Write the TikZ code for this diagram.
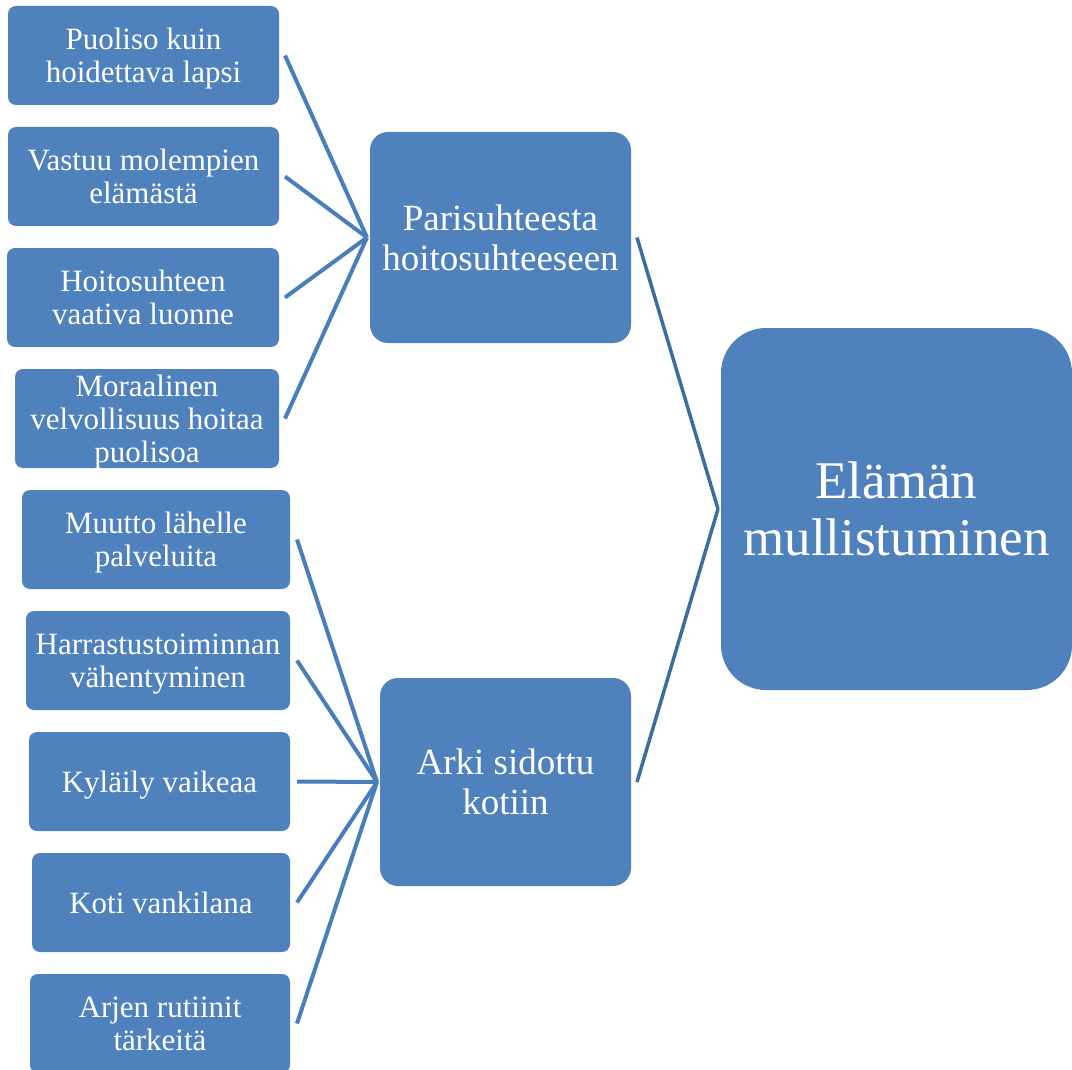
\documentclass[tikz,border=0pt]{standalone}
\usepackage{fontspec}
\setmainfont{Liberation Serif}
\definecolor{boxblue}{HTML}{4F81BD}
\definecolor{lineblue}{HTML}{4A7EBB}
\definecolor{darkline}{HTML}{3F6C9E}
\begin{document}
\begin{tikzpicture}[x=1pt,y=-1pt,
  base/.style={fill=boxblue, text=white, align=center, inner sep=0pt, outer sep=0pt},
  smallbox/.style={base, rounded corners=8pt, text depth=0pt, font=\fontsize{31}{33}\selectfont},
  midbox/.style={base, rounded corners=18pt, font=\fontsize{37}{40}\selectfont},
  bigbox/.style={base, rounded corners=45pt, font=\fontsize{53}{57}\selectfont},
  conn/.style={draw=lineblue, line width=4pt},
  conn2/.style={draw=darkline, line width=3.5pt}]
\useasboundingbox (0,0) rectangle (1072,1070);
% small boxes (top group)
\node[smallbox, minimum width=271pt, minimum height=99pt] (b1) at (143.5,55.5) {Puoliso kuin\\hoidettava lapsi};
\node[smallbox, minimum width=271pt, minimum height=99pt] (b2) at (143.5,176.5) {Vastuu molempien\\elämästä};
\node[smallbox, minimum width=272pt, minimum height=99pt] (b3) at (143,297.5) {Hoitosuhteen\\vaativa luonne};
\node[smallbox, minimum width=264pt, minimum height=99pt] (b4) at (147,418.5) {Moraalinen\\velvollisuus hoitaa\\puolisoa};
% small boxes (bottom group)
\node[smallbox, minimum width=268pt, minimum height=99pt] (b5) at (156,539.5) {Muutto lähelle\\palveluita};
\node[smallbox, minimum width=264pt, minimum height=99pt] (b6) at (158,660.5) {Harrastustoiminnan\\vähentyminen};
\node[smallbox, minimum width=261pt, minimum height=99pt] (b7) at (159.5,781.5) {Kyläily vaikeaa};
\node[smallbox, minimum width=258pt, minimum height=99pt] (b8) at (161,902.5) {Koti vankilana};
\node[smallbox, minimum width=260pt, minimum height=99pt] (b9) at (160,1023.5) {Arjen rutiinit\\tärkeitä};
% middle boxes
\node[midbox, minimum width=261pt, minimum height=211pt] (P) at (500.5,237.5) {Parisuhteesta\\hoitosuhteeseen};
\node[midbox, minimum width=251pt, minimum height=208pt] (A) at (505.5,782) {Arki sidottu\\kotiin};
% big box
\node[bigbox, minimum width=351pt, minimum height=362pt] (E) at (896.5,509) {Elämän\\mullistuminen};
% connectors
\foreach \b in {b1,b2,b3,b4}
  \draw[conn] ([xshift=6pt]\b.east) -- ([xshift=-3pt]P.west);
\foreach \b in {b5,b6,b7,b8,b9}
  \draw[conn] ([xshift=7pt]\b.east) -- ([xshift=-3pt]A.west);
\draw[conn2] ([xshift=6pt]P.east) -- ([xshift=-3pt]E.west);
\draw[conn2] ([xshift=6pt]A.east) -- ([xshift=-3pt]E.west);
\end{tikzpicture}
\end{document}
